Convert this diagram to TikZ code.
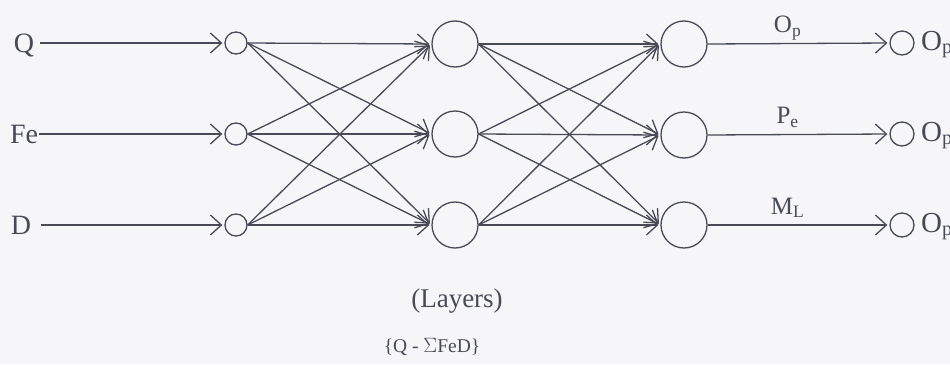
\documentclass[tikz,border=0pt]{standalone}
\usepackage{fontspec}
\setmainfont{Liberation Serif}
\usetikzlibrary{arrows.meta}
\definecolor{inkc}{RGB}{72,74,88}
\definecolor{paper}{RGB}{246,246,248}
\begin{document}
\begin{tikzpicture}[x=1pt,y=-1pt,
  ink/.style={draw=inkc, line width=1.3pt},
  smallnode/.style={circle, ink, minimum size=22pt, inner sep=0pt},
  bignode/.style={circle, ink, minimum size=46pt, inner sep=0pt},
  link/.style={ink, -{Straight Barb[length=11pt,width=20pt]}, shorten >=2pt},
  lab/.style={text=inkc, font=\fontsize{28}{30}\selectfont, inner sep=0pt, anchor=base},
  sublab/.style={text=inkc, font=\fontsize{25}{30}\selectfont, inner sep=0pt, anchor=base},
  endlab/.style={text=inkc, font=\fontsize{29}{30}\selectfont, inner sep=0pt, anchor=base west},
  note/.style={text=inkc, inner sep=0pt}
]
\fill[paper] (0,0) rectangle (950,364);
\useasboundingbox (0,0) rectangle (950,364);

% input labels
\node[lab] (q)  at (24,52)  {Q};
\node[lab] (fe) at (24,143) {Fe};
\node[lab] (d)  at (21,234) {D};

% input layer
\node[smallnode] (i1) at (236,43)  {};
\node[smallnode] (i2) at (236,134) {};
\node[smallnode] (i3) at (236,225) {};

% hidden layer
\node[bignode] (h1) at (455,44)  {};
\node[bignode] (h2) at (455,134) {};
\node[bignode] (h3) at (455,225) {};

% output layer
\node[bignode] (o1) at (684,44)  {};
\node[bignode] (o2) at (684,135) {};
\node[bignode] (o3) at (684,225) {};

% final small nodes
\node[smallnode,minimum size=24pt] (f1) at (902,43)  {};
\node[smallnode,minimum size=24pt] (f2) at (902,134) {};
\node[smallnode,minimum size=24pt] (f3) at (902,225) {};

% input arrows
\draw[link] ([xshift=6pt]q.east |- i1.west) -- (i1.west);
\draw[link] ([xshift=1pt]fe.east |- i2.west) -- (i2.west);
\draw[link] ([xshift=10pt]d.east |- i3.west) -- (i3.west);

% input -> hidden
\foreach \a in {1,2,3}{
  \foreach \b in {1,2,3}{
    \draw[link] (i\a.east) -- (h\b.west);
  }
}
% hidden -> output
\foreach \a in {1,2,3}{
  \foreach \b in {1,2,3}{
    \draw[link] (h\a.east) -- (o\b.west);
  }
}

% output arrows
\draw[link] (o1.east) -- node[sublab, pos=0.44, yshift=11pt] (l1) {O$_{\mathrm{p}}$} (f1.west);
\draw[link] (o2.east) -- node[sublab, pos=0.44, yshift=11pt] (l2) {P$_{\mathrm{e}}$} (f2.west);
\draw[link] (o3.east) -- node[sublab, pos=0.44, yshift=11pt] (l3) {M$_{\mathrm{L}}$} (f3.west);

% final labels (cut at the edge)
\node[endlab] (r1) at (921,50)  {O$_{\mathrm{p}}$};
\node[endlab] (r2) at (921,141) {O$_{\mathrm{p}}$};
\node[endlab] (r3) at (921,232) {O$_{\mathrm{p}}$};

% notes
\node[note, font=\fontsize{27}{30}\selectfont] (layers) at (457,301) {(Layers)};
\node[note, font=\fontsize{19.5}{24}\selectfont] (formula) at (432,347) {\{Q - $\Sigma$FeD\}};
\end{tikzpicture}
\end{document}
